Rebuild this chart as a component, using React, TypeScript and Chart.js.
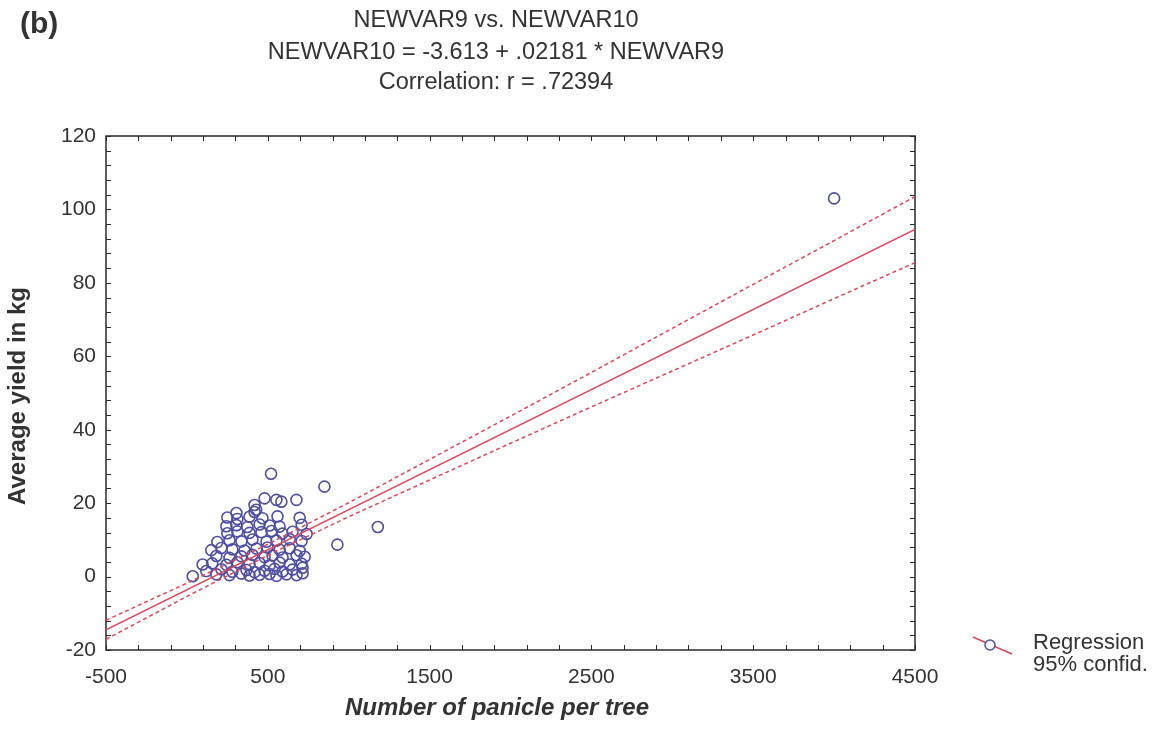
import { useEffect, useRef } from 'react';
import { Chart, registerables } from 'chart.js';

Chart.register(...registerables);

// ---- Data ----
const titleLines = ['NEWVAR9 vs. NEWVAR10', 'NEWVAR10 = -3.613 + .02181 * NEWVAR9', 'Correlation: r = .72394'];
const panelLabel = '(b)';
const xAxisTitle = 'Number of panicle per tree';
const yAxisTitle = 'Average yield in kg';
const legendLines = ['Regression', '95% confid.'];

const xTickLabels = [-500, 500, 1500, 2500, 3500, 4500];
const yTickLabels = [-20, 0, 20, 40, 60, 80, 100, 120];

const panicleX = [
  182, 263, 337, 387, 449, 511, 554, 616, 678, 715,
  120, 213, 281, 368, 418, 480, 542, 591, 653, 715,
  157, 244, 312, 387, 449, 511, 573, 635, 709,
  182, 263, 337, 405, 480, 529, 591, 678, 728,
  151, 213, 281, 356, 430, 498, 573, 635, 697,
  188, 263, 337, 405, 492, 554, 635, 709,
  250, 312, 387, 461, 523, 591, 653, 740,
  244, 306, 374, 449, 511, 573, 709,
  250, 312, 387, 467, 560, 697,
  306, 418, 428, 418, 480, 553, 584, 677, 97, 36,
  520, 850, 930, 1180, 4000,
];
const yieldKg = [
  0.6, 0.4, 0.8, 0.3, 0.5, 0.7, 0.2, 0.6, 0.4, 0.9,
  1.5, 2.0, 1.3, 1.8, 1.2, 1.6, 2.1, 1.4, 1.9, 2.4,
  3.6, 3.2, 3.9, 3.4, 3.7, 3.1, 3.8, 3.3, 3.5,
  5.6, 5.1, 5.5, 5.9, 5.3, 5.7, 5.2, 5.8, 5.4,
  7.2, 7.8, 7.4, 7.1, 7.6, 7.9, 7.3, 7.7, 7.0,
  9.4, 9.9, 9.6, 10.1, 9.5, 9.8, 10.2, 9.7,
  11.8, 12.3, 11.9, 12.1, 12.4, 11.7, 12.2, 11.6,
  13.7, 14.0, 13.5, 14.2, 13.9, 13.6, 14.1,
  16.1, 15.7, 16.3, 15.9, 16.4, 16.0,
  17.3, 17.6, 18.2, 19.5, 21.3, 20.9, 20.4, 20.9, 3.3, 0.1,
  28.0, 24.5, 8.7, 13.5, 103.0,
];

const fitX = [-500, 4500];
const fitY = [-14.52, 94.54];
const bandX = [-500, 0, 500, 1000, 1500, 2000, 2500, 3000, 3500, 4000, 4500];
const upperBand = [-11.9, -1.8, 8.8, 20.1, 31.9, 43.7, 55.6, 67.6, 79.6, 91.5, 103.5];
const lowerBand = [-17.1, -5.4, 5.8, 16.3, 26.3, 36.3, 46.2, 56.0, 65.8, 75.7, 85.5];

// ---- Styles ----
const FONT = '"Liberation Sans", Arial, sans-serif';
const TEXT = '#333333';
const RED = 'rgb(226, 70, 90)';
const BLUE = 'rgb(78, 78, 165)';

const W = 1173;
const H = 754;
const AREA = { left: 106, right: 915, top: 136, bottom: 650 };
const Y_AXIS_W = 70;
const X_AXIS_H = H - AREA.bottom;

const decorPlugin = {
  id: 'decor',
  beforeDatasetsDraw(chart: any) {
    const { ctx, chartArea: a, scales } = chart;
    ctx.save();
    ctx.strokeStyle = '#2a2a2a';
    ctx.lineWidth = 1.5;
    ctx.strokeRect(a.left, a.top, a.right - a.left, a.bottom - a.top);
    ctx.lineWidth = 1;
    ctx.beginPath();
    for (let v = -20; v <= 120; v += 4) {
      const y = Math.round(scales.y.getPixelForValue(v)) + 0.5;
      const len = 5;
      ctx.moveTo(a.left, y);
      ctx.lineTo(a.left + len, y);
      ctx.moveTo(a.right, y);
      ctx.lineTo(a.right - len, y);
    }
    for (let v = -500; v <= 4500; v += 200) {
      const x = Math.round(scales.x.getPixelForValue(v)) + 0.5;
      const len = 5;
      ctx.moveTo(x, a.bottom);
      ctx.lineTo(x, a.bottom - len);
      ctx.moveTo(x, a.top);
      ctx.lineTo(x, a.top + len);
    }
    ctx.stroke();
    ctx.restore();
  },
  afterDraw(chart: any) {
    const { ctx } = chart;
    ctx.save();
    ctx.fillStyle = TEXT;
    // panel label
    ctx.font = `bold 30px ${FONT}`;
    ctx.textAlign = 'left';
    ctx.textBaseline = 'alphabetic';
    ctx.fillText(panelLabel, 20, 33);
    // titles
    ctx.font = `23.5px ${FONT}`;
    ctx.textAlign = 'center';
    const cx = 496;
    const baselines = [27, 59, 89];
    titleLines.forEach((t, i) => ctx.fillText(t, cx, baselines[i]));
    // x axis title
    ctx.font = `italic bold 24px ${FONT}`;
    ctx.textBaseline = 'middle';
    ctx.fillText(xAxisTitle, 497, 708);
    // y axis title
    ctx.save();
    ctx.translate(18, 396);
    ctx.rotate(-Math.PI / 2);
    ctx.font = `bold 24px ${FONT}`;
    ctx.fillText(yAxisTitle, 0, 0);
    ctx.restore();
    // legend
    ctx.strokeStyle = RED;
    ctx.lineWidth = 1.5;
    ctx.beginPath();
    ctx.moveTo(973, 637);
    ctx.lineTo(1012, 654);
    ctx.stroke();
    ctx.beginPath();
    ctx.arc(990, 645, 5, 0, Math.PI * 2);
    ctx.fillStyle = '#ffffff';
    ctx.fill();
    ctx.strokeStyle = BLUE;
    ctx.stroke();
    ctx.fillStyle = TEXT;
    ctx.font = `22px ${FONT}`;
    ctx.textAlign = 'left';
    ctx.textBaseline = 'alphabetic';
    ctx.fillText(legendLines[0], 1033, 649);
    ctx.fillText(legendLines[1], 1033, 671);
    ctx.restore();
  },
};

export default function App() {
  const canvasRef = useRef<HTMLCanvasElement | null>(null);

  useEffect(() => {
    document.body.style.margin = '0';
    const canvas = canvasRef.current;
    if (!canvas) return;

    const scatterPts = panicleX.map((x, i) => ({ x, y: yieldKg[i] }));
    const fitPts = fitX.map((x, i) => ({ x, y: fitY[i] }));
    const upPts = bandX.map((x, i) => ({ x, y: upperBand[i] }));
    const loPts = bandX.map((x, i) => ({ x, y: lowerBand[i] }));

    const chart = new Chart(canvas, {
      type: 'scatter',
      data: {
        datasets: [
          {
            label: 'Data',
            data: scatterPts,
            pointRadius: 5.5,
            pointBorderWidth: 1.6,
            pointBorderColor: BLUE,
            pointBackgroundColor: 'rgba(255,255,255,0)',
            showLine: false,
            order: 2,
          },
          {
            label: 'Regression',
            data: fitPts,
            showLine: true,
            borderColor: RED,
            borderWidth: 1.5,
            pointRadius: 0,
            fill: false,
            order: 1,
          },
          {
            label: 'Upper 95%',
            data: upPts,
            showLine: true,
            borderColor: RED,
            borderWidth: 1.5,
            borderDash: [4, 3],
            pointRadius: 0,
            fill: false,
            order: 1,
          },
          {
            label: 'Lower 95%',
            data: loPts,
            showLine: true,
            borderColor: RED,
            borderWidth: 1.5,
            borderDash: [4, 3],
            pointRadius: 0,
            fill: false,
            order: 1,
          },
        ],
      },
      options: {
        responsive: false,
        animation: false,
        layout: {
          padding: {
            left: AREA.left - Y_AXIS_W,
            top: AREA.top,
            right: W - AREA.right,
            bottom: 0,
          },
        },
        plugins: {
          legend: { display: false },
          tooltip: { enabled: false },
          title: { display: false },
        },
        scales: {
          x: {
            type: 'linear',
            min: -500,
            max: 4500,
            afterBuildTicks: (scale: any) => {
              scale.ticks = xTickLabels.map((v) => ({ value: v }));
            },
            afterFit: (scale: any) => {
              scale.height = X_AXIS_H;
            },
            grid: { display: false, drawTicks: false },
            border: { display: false },
            ticks: {
              color: TEXT,
              font: { family: FONT, size: 21 },
              padding: 15,
              maxRotation: 0,
              autoSkip: false,
              callback: (v: any) => String(v),
            },
          },
          y: {
            type: 'linear',
            min: -20,
            max: 120,
            afterBuildTicks: (scale: any) => {
              scale.ticks = yTickLabels.map((v) => ({ value: v }));
            },
            afterFit: (scale: any) => {
              scale.width = Y_AXIS_W;
            },
            grid: { display: false, drawTicks: false },
            border: { display: false },
            ticks: {
              color: TEXT,
              font: { family: FONT, size: 21 },
              padding: 10,
              autoSkip: false,
              callback: (v: any) => String(v),
            },
          },
        },
      },
      plugins: [decorPlugin],
    });

    return () => chart.destroy();
  }, []);

  return (
    <div style={{ position: 'relative', width: W, height: H, background: '#ffffff' }}>
      <canvas ref={canvasRef} width={W} height={H} />
    </div>
  );
}
